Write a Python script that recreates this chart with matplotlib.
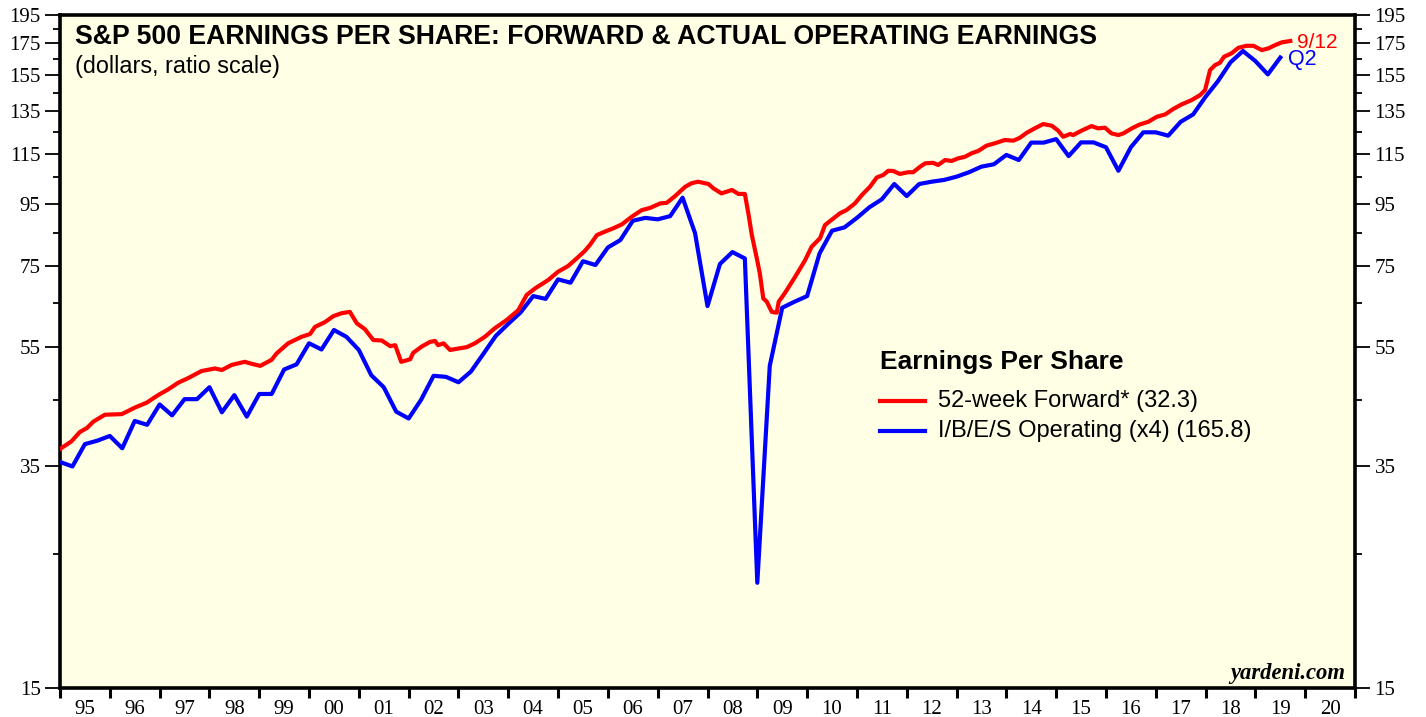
import numpy as np
import matplotlib
matplotlib.use("Agg")
import matplotlib.pyplot as plt
from matplotlib.ticker import FixedLocator, NullFormatter, FixedFormatter

# ---------------- data ----------------
# 52-week forward earnings (weekly series, sampled) : decimal year, dollars
fwd_dates = [1995.00, 1995.23, 1995.40, 1995.54, 1995.67, 1995.90, 1996.24, 1996.51, 1996.74, 1996.97,
             1997.17, 1997.37, 1997.58, 1997.84, 1998.11, 1998.25, 1998.45, 1998.71, 1998.85, 1999.02,
             1999.25, 1999.35, 1999.58, 1999.85, 2000.02, 2000.12, 2000.32, 2000.49, 2000.66, 2000.82,
             2000.96, 2001.12, 2001.29, 2001.46, 2001.63, 2001.73, 2001.85, 2002.03, 2002.09, 2002.26,
             2002.43, 2002.53, 2002.59, 2002.70, 2002.83, 2003.00, 2003.17, 2003.33, 2003.53, 2003.73,
             2003.97, 2004.20, 2004.37, 2004.54, 2004.80, 2005.00, 2005.20, 2005.41, 2005.54, 2005.64,
             2005.78, 2005.94, 2006.11, 2006.28, 2006.48, 2006.68, 2006.85, 2007.05, 2007.18, 2007.35,
             2007.55, 2007.68, 2007.81, 2008.02, 2008.12, 2008.28, 2008.49, 2008.62, 2008.75, 2008.82,
             2008.89, 2008.99, 2009.05, 2009.12, 2009.19, 2009.29, 2009.39, 2009.43, 2009.55, 2009.76,
             2009.96, 2010.09, 2010.26, 2010.36, 2010.49, 2010.66, 2010.79, 2010.96, 2011.10, 2011.26,
             2011.40, 2011.53, 2011.63, 2011.73, 2011.86, 2012.03, 2012.13, 2012.27, 2012.37, 2012.53,
             2012.63, 2012.77, 2012.90, 2013.03, 2013.17, 2013.30, 2013.44, 2013.60, 2013.77, 2013.97,
             2014.14, 2014.27, 2014.41, 2014.57, 2014.74, 2014.91, 2015.04, 2015.14, 2015.28, 2015.34,
             2015.51, 2015.71, 2015.84, 2015.98, 2016.11, 2016.25, 2016.35, 2016.52, 2016.68, 2016.85,
             2017.02, 2017.19, 2017.35, 2017.52, 2017.72, 2017.89, 2017.99, 2018.09, 2018.19, 2018.29,
             2018.37, 2018.52, 2018.66, 2018.82, 2018.96, 2019.13, 2019.26, 2019.40, 2019.53, 2019.70]
fwd_values = [37.3, 38.4, 39.8, 40.4, 41.4, 42.5, 42.6, 43.7, 44.5, 45.8,
              46.8, 48.0, 48.9, 50.2, 50.7, 50.4, 51.4, 52.0, 51.6, 51.2,
              52.4, 53.7, 55.8, 57.2, 57.8, 59.4, 60.5, 61.9, 62.6, 62.9,
              60.2, 58.9, 56.5, 56.4, 55.2, 55.4, 52.0, 52.5, 53.8, 55.1,
              56.1, 56.3, 55.4, 55.8, 54.4, 54.7, 55.0, 55.8, 57.2, 59.1,
              61.0, 63.3, 67.1, 68.8, 71.0, 73.3, 74.9, 77.6, 79.4, 81.2,
              84.3, 85.4, 86.5, 87.8, 90.4, 92.7, 93.5, 95.1, 95.3, 97.8,
              101.3, 102.7, 103.3, 102.4, 100.7, 98.8, 100.1, 98.6, 98.6, 91.6,
              84.3, 77.1, 72.9, 66.2, 65.4, 62.9, 62.7, 65.4, 67.5, 71.9,
              76.6, 80.6, 83.3, 87.6, 89.3, 91.6, 92.7, 95.1, 98.2, 101.3,
              105.0, 106.0, 107.7, 107.6, 106.4, 107.1, 107.1, 109.4, 110.8, 111.0,
              110.1, 112.2, 111.8, 112.9, 113.6, 115.1, 116.2, 118.5, 119.6, 121.1,
              120.8, 122.1, 124.5, 126.6, 128.7, 127.9, 125.5, 122.6, 123.9, 123.4,
              125.5, 127.7, 126.6, 126.9, 124.2, 123.4, 124.2, 126.6, 128.5, 129.8,
              132.3, 133.5, 136.3, 138.7, 141.0, 143.7, 146.5, 158.1, 161.1, 162.6,
              166.3, 168.5, 172.1, 173.4, 173.4, 170.6, 171.7, 173.9, 175.7, 176.6]

# I/B/E/S operating earnings (x4), quarterly, Q4 1994 .. Q2 2019 (plotted at quarter end)
ibes_values = [35.5, 34.9, 38.0, 38.5, 39.2, 37.4, 41.5, 40.9, 44.2, 42.4,
               45.1, 45.1, 47.2, 42.9, 45.8, 42.2, 46.0, 46.0, 50.5, 51.5,
               55.8, 54.5, 58.7, 57.2, 54.4, 49.4, 47.2, 43.0, 41.9, 45.0,
               49.3, 49.1, 48.1, 50.1, 53.6, 57.4, 60.1, 62.8, 66.8, 66.1,
               71.2, 70.3, 76.3, 75.2, 80.4, 82.7, 89.0, 90.0, 89.5, 90.6,
               97.2, 84.9, 64.3, 75.5, 79.0, 77.1, 22.4, 51.2, 63.9, 65.4,
               66.8, 78.6, 85.7, 86.8, 90.0, 93.7, 96.6, 102.4, 97.8, 102.4,
               103.3, 104.0, 105.3, 107.1, 109.4, 110.4, 114.4, 112.2, 119.9, 119.9,
               121.5, 113.9, 120.0, 120.0, 117.8, 107.7, 117.8, 124.7, 124.7, 123.1,
               129.8, 133.5, 142.8, 151.6, 162.8, 170.0, 163.6, 155.5, 165.8]
ibes_dates = [1995.0 + 0.25 * i for i in range(len(ibes_values))]

years = list(range(1995, 2022))
year_labels = ["95", "96", "97", "98", "99", "00", "01", "02", "03", "04", "05", "06", "07",
               "08", "09", "10", "11", "12", "13", "14", "15", "16", "17", "18", "19", "20"]
y_major = [15, 35, 55, 75, 95, 115, 135, 155, 175, 195]
y_minor = [25, 45, 65, 85, 105, 125, 145, 165, 185]

# ---------------- figure ----------------
W, H = 1426, 717
fig = plt.figure(figsize=(W / 100, H / 100), dpi=100)
ax = fig.add_axes([60 / W, 1 - 688 / H, (1355 - 60) / W, (688 - 15) / H])
ax.set_facecolor("#FFFFE6")

ax.plot(ibes_dates, ibes_values, color="#0000FF", lw=3.0, zorder=3)
ax.plot(fwd_dates, fwd_values, color="#FF0000", lw=3.0, zorder=4)

ax.set_yscale("log")
ax.set_ylim(15, 195)
ax.set_xlim(1995, 2021)

ax.yaxis.set_major_locator(FixedLocator(y_major))
ax.yaxis.set_major_formatter(FixedFormatter([str(v) for v in y_major]))
ax.yaxis.set_minor_locator(FixedLocator(y_minor))
ax.yaxis.set_minor_formatter(NullFormatter())

ax.xaxis.set_major_locator(FixedLocator(years))
ax.xaxis.set_major_formatter(NullFormatter())
ax.xaxis.set_minor_locator(FixedLocator([y + 0.5 for y in years[:-1]]))
ax.xaxis.set_minor_formatter(FixedFormatter(year_labels))

serif = ["Liberation Serif", "DejaVu Serif"]
sans = ["Liberation Sans", "DejaVu Sans"]

ax.tick_params(axis="y", which="major", direction="out", length=11, width=1.3,
               left=True, right=True, labelleft=True, labelright=True, labelsize=15, pad=3)
ax.tick_params(axis="y", which="minor", direction="out", length=5, width=1.3, left=True, right=True)
ax.tick_params(axis="x", which="major", direction="out", length=7, width=2.2, bottom=True)
ax.tick_params(axis="x", which="minor", length=0, labelsize=15, pad=9)
for lab in ax.xaxis.get_minorticklabels() + ax.yaxis.get_majorticklabels():
    lab.set_family(serif)
for t in ax.yaxis.get_major_ticks():
    t.label2.set_family(serif)

for s in ax.spines.values():
    s.set_linewidth(2.6)
    s.set_color("black")

# titles
fig.text(75 / W, 1 - 37 / H, "S&P 500 EARNINGS PER SHARE: FORWARD & ACTUAL OPERATING EARNINGS",
         family=sans, fontweight="bold", fontsize=19.2, va="center", ha="left")
fig.text(75 / W, 1 - 66 / H, "(dollars, ratio scale)", family=sans, fontsize=16.8, va="center", ha="left")

# legend
fig.text(880 / W, 1 - 362 / H, "Earnings Per Share", family=sans, fontweight="bold",
         fontsize=19, va="center", ha="left")
leg_items = [("#FF0000", "52-week Forward* (32.3)", 401), ("#0000FF", "I/B/E/S Operating (x4) (165.8)", 431)]
for col, txt, yy in leg_items:
    fig.add_artist(plt.Line2D([880 / W, 925 / W], [1 - yy / H, 1 - yy / H], color=col, lw=3.0))
    fig.text(938 / W, 1 - yy / H, txt, family=sans, fontsize=17, va="center", ha="left")

# end labels
fig.text(1297 / W, 1 - 42 / H, "9/12", family=sans, fontsize=15, color="#FF0000", va="center", ha="left")
fig.text(1288 / W, 1 - 60 / H, "Q2", family=sans, fontsize=15.5, color="#0000FF", va="center", ha="left")

fig.text(1345 / W, 1 - 673 / H, "yardeni.com", family=serif, fontweight="bold", style="italic",
         fontsize=16.3, va="center", ha="right")

fig.savefig("out.png", dpi=100, facecolor="white")
